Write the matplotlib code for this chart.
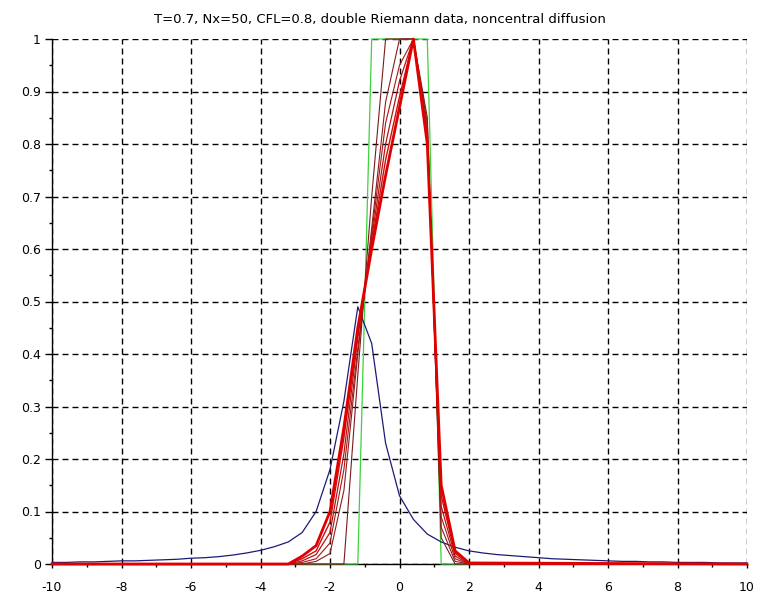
import matplotlib
matplotlib.use("Agg")
import matplotlib.pyplot as plt
import numpy as np
from matplotlib.ticker import MultipleLocator

TITLE = "T=0.7, Nx=50, CFL=0.8, double Riemann data, noncentral diffusion"

# mesh with Nx=50 cells on [-10, 10]
x_mesh = np.linspace(-10, 10, 51)

# blue solution on the mesh
blue_u = [
    0.003, 0.003, 0.004, 0.004, 0.005, 0.006, 0.006, 0.007, 0.008, 0.009,
    0.011, 0.012, 0.014, 0.017, 0.021, 0.026, 0.033, 0.042, 0.060, 0.100,
    0.180, 0.310, 0.490, 0.420, 0.230, 0.130, 0.085, 0.057, 0.042, 0.032,
    0.025, 0.021, 0.018, 0.016, 0.014, 0.012, 0.010, 0.009, 0.008, 0.007,
    0.006, 0.005, 0.005, 0.004, 0.004, 0.003, 0.003, 0.003, 0.002, 0.002,
    0.002,
]

# initial double Riemann data (green)
x_init = [-10, -1.2, -0.8, 0.8, 1.2, 10]
init_u = [0, 0, 1, 1, 0, 0]

# red family of runs
x_red = [-10, -3.2, -2.8, -2.4, -2.0, -1.6, -1.2, -0.8, -0.4, 0.0, 0.4, 0.8, 1.2, 1.6, 2.0, 10]
red_runs = [
    [0, 0, 0, 0, 0, 0, 0.36, 0.70, 1.00, 1.00, 1.00, 0.85, 0.05, 0, 0, 0],
    [0, 0, 0, 0.005, 0.02, 0.14, 0.40, 0.64, 0.88, 1.00, 1.00, 0.84, 0.07, 0.005, 0, 0],
    [0, 0, 0.003, 0.010, 0.04, 0.18, 0.41, 0.63, 0.84, 0.95, 1.00, 0.83, 0.09, 0.010, 0, 0],
    [0, 0, 0.006, 0.018, 0.06, 0.21, 0.43, 0.62, 0.80, 0.92, 1.00, 0.82, 0.11, 0.015, 0, 0],
    [0, 0, 0.010, 0.025, 0.08, 0.24, 0.44, 0.61, 0.77, 0.89, 1.00, 0.81, 0.13, 0.020, 0.001, 0],
    [0, 0, 0.015, 0.035, 0.10, 0.26, 0.45, 0.60, 0.74, 0.87, 1.00, 0.80, 0.15, 0.025, 0.002, 0],
]
red_colors = ["#7a1a1a", "#8e1b1b", "#a31717", "#b71313", "#cc0e0e", "#e00000"]
red_widths = [0.8, 0.8, 0.8, 0.9, 1.0, 2.0]

x_ticks = [-10, -8, -6, -4, -2, 0, 2, 4, 6, 8, 10]
x_labels = ["-10", "-8", "-6", "-4", "-2", "0", "2", "4", "6", "8", "10"]
y_ticks = [0, 0.1, 0.2, 0.3, 0.4, 0.5, 0.6, 0.7, 0.8, 0.9, 1]
y_labels = ["0", "0.1", "0.2", "0.3", "0.4", "0.5", "0.6", "0.7", "0.8", "0.9", "1"]


def draw():
    plt.rcParams["font.family"] = ["DejaVu Sans"]
    fig = plt.figure(figsize=(7.6, 5.94), dpi=100)
    ax = fig.add_axes([52 / 760, 1 - 564 / 594, 695 / 760, 525 / 594])

    ax.plot(x_init, init_u, color="#3fd03f", lw=0.9, clip_on=False, zorder=3)
    ax.plot(x_mesh, blue_u, color="#1c1c78", lw=0.9, clip_on=False, zorder=4)
    for run, c, w in zip(red_runs, red_colors, red_widths):
        ax.plot(x_red, run, color=c, lw=w, clip_on=False, zorder=5)

    ax.set_xlim(-10, 10)
    ax.set_ylim(0, 1)
    ax.set_xticks(x_ticks)
    ax.set_xticklabels(x_labels)
    ax.set_yticks(y_ticks)
    ax.set_yticklabels(y_labels)
    ax.xaxis.set_minor_locator(MultipleLocator(1))
    ax.yaxis.set_minor_locator(MultipleLocator(0.05))

    ax.grid(True, which="major", color="black", lw=1.0, linestyle=(0, (4.3, 2.9)))
    ax.set_axisbelow(True)
    for side in ["top", "right"]:
        ax.spines[side].set_visible(False)
    for side in ["left", "bottom"]:
        ax.spines[side].set_linewidth(1.0)

    ax.tick_params(axis="both", which="major", direction="out", length=5, width=1.0,
                   labelsize=9, colors="black")
    ax.tick_params(axis="both", which="minor", direction="out", length=2.5, width=1.0)
    ax.tick_params(axis="x", which="major", length=3, pad=9)
    ax.tick_params(axis="y", which="major", pad=3)

    fig.text(0.5, 1 - 19 / 594, TITLE, ha="center", va="center", fontsize=9.5)
    fig.savefig("out.png", dpi=100)
    plt.close(fig)


if __name__ == "__main__":
    draw()
